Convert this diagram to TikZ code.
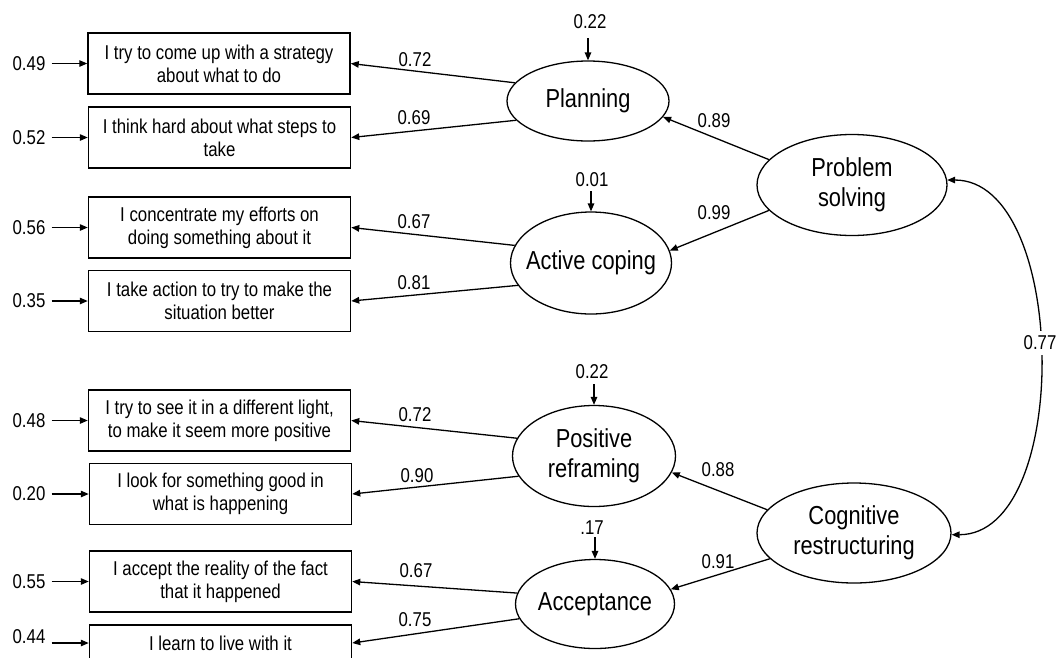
\documentclass[tikz,border=0pt]{standalone}
\usepackage{fontspec}
\setmainfont{Liberation Sans}[FakeStretch=0.84]
\usetikzlibrary{arrows.meta,shapes.geometric}
\begin{document}
\begin{tikzpicture}[x=1pt,y=-1pt,
  every node/.style={font=\fontsize{20}{23}\selectfont},
  item/.style={draw, line width=1.5pt, minimum width=262pt, minimum height=61pt, inner sep=0pt, align=center},
  lat/.style={draw, ellipse, line width=1.3pt, inner sep=0pt},
  lattext/.style={font=\fontsize{26}{30.5}\selectfont, align=center},
  num/.style={inner sep=1pt},
  err/.style={inner sep=6pt},
  arr/.style={line width=1.3pt, -{Triangle[length=8pt,width=6.5pt]}},
  arrb/.style={line width=1.3pt, {Triangle[length=8pt,width=6.5pt]}-{Triangle[length=8pt,width=6.5pt]}},
]
\useasboundingbox (0,0) rectangle (1064,657);
\clip (0,0) rectangle (1064,657);

% observed items
\node[item] (b1) at (219,63.5) {I try to come up with a strategy\\about what to do};
\node[item] (b2) at (219.5,137.5) {I think hard about what steps to\\take};
\node[item] (b3) at (219.5,227.5) {I concentrate my efforts on\\doing something about it};
\node[item] (b4) at (219.5,301) {I take action to try to make the\\situation better};
\node[item] (b5) at (219.5,420.5) {I try to see it in a different light,\\to make it seem more positive};
\node[item] (b6) at (220.5,494) {I look for something good in\\what is happening};
\node[item] (b7) at (220.5,581.5) {I accept the reality of the fact\\that it happened};
\node[item, minimum height=36pt] (b8) at (220.5,643) {I learn to live with it};

% error terms
\node[err] (e1) at (29,63.5) {0.49};
\node[err] (e2) at (29,137.5) {0.52};
\node[err] (e3) at (29,227.5) {0.56};
\node[err] (e4) at (29,301) {0.35};
\node[err] (e5) at (29,420.5) {0.48};
\node[err] (e6) at (29,494) {0.20};
\node[err] (e7) at (29,581.5) {0.55};
\node[err] (e8) at (29,637) {0.44};
\foreach \i in {1,...,7} {\draw[arr] (e\i) -- (b\i);}
\draw[arr] (e8.east |- b8.west) -- (b8.west);

% first-order latent factors
\node[lat, minimum width=162pt, minimum height=80pt, label={[lattext]center:Planning}] (pl) at (588,101) {};
\node[lat, minimum width=161pt, minimum height=102pt, label={[lattext]center:Active coping}] (ac) at (591,263) {};
\node[lat, minimum width=163pt, minimum height=101pt, label={[lattext]center:{Positive\\reframing}}] (pr) at (594,456) {};
\node[lat, minimum width=159pt, minimum height=89pt, label={[lattext]center:Acceptance}] (acc) at (595,604) {};

% second-order factors
\node[lat, minimum width=190pt, minimum height=101pt, label={[lattext]center:{Problem\\solving}}] (ps) at (852,185) {};
\node[lat, minimum width=194pt, minimum height=100pt, label={[lattext]center:{Cognitive\\restructuring}}] (cr) at (854,533) {};

% disturbances
\node[num] (r1) at (590,22) {0.22};
\node[num] (r2) at (592,180) {0.01};
\node[num] (r3) at (592,372) {0.22};
\node[num] (r4) at (592,528) {.17};
\draw[arr, shorten <=8pt] (r1.south -| pl.north) -- (pl.north);
\draw[arr, shorten <=3pt] (r2.south -| ac.north) -- (ac.north);
\draw[arr, shorten <=4pt] (r3.south -| pr.north) -- (pr.north);
\draw[arr, shorten <=1pt] (r4.south -| acc.north) -- (acc.north);

% loadings
\draw[arr] (pl.166) -- (b1.east);
\draw[arr] (pl.195) -- (b2.east);
\draw[arr] (ac.167) -- (b3.east);
\draw[arr] (ac.197) -- (b4.east);
\draw[arr] (pr.167) -- (b5.east);
\draw[arr] (pr.195) -- (b6.east);
\draw[arr] (acc.172) -- (b7.east);
\draw[arr] (acc.191) -- (b8.east);
\node[num] (l1) at (415,60) {0.72};
\node[num] (l2) at (414,118) {0.69};
\node[num] (l3) at (414,222) {0.67};
\node[num] (l4) at (414,283) {0.81};
\node[num] (l5) at (415,415) {0.72};
\node[num] (l6) at (417,476) {0.90};
\node[num] (l7) at (416,571) {0.67};
\node[num] (l8) at (415,620) {0.75};

% second-order loadings
\draw[arr] (ps.163) -- (pl.348);
\draw[arr] (ps.197) -- (ac.9);
\draw[arr] (cr.165) -- (pr.348);
\draw[arr] (cr.197) -- (acc.11);
\node[num] (s1) at (714,121) {0.89};
\node[num] (s2) at (714,213) {0.99};
\node[num] (s3) at (718,470) {0.88};
\node[num] (s4) at (718,562) {0.91};

% covariance
\draw[arrb] (ps.3) .. controls +(121,0) and +(121,0) .. (cr.359);
\node[num, fill=white, inner xsep=2pt, inner ysep=5pt] (cv) at (1040,343) {0.77};
\end{tikzpicture}
\end{document}
